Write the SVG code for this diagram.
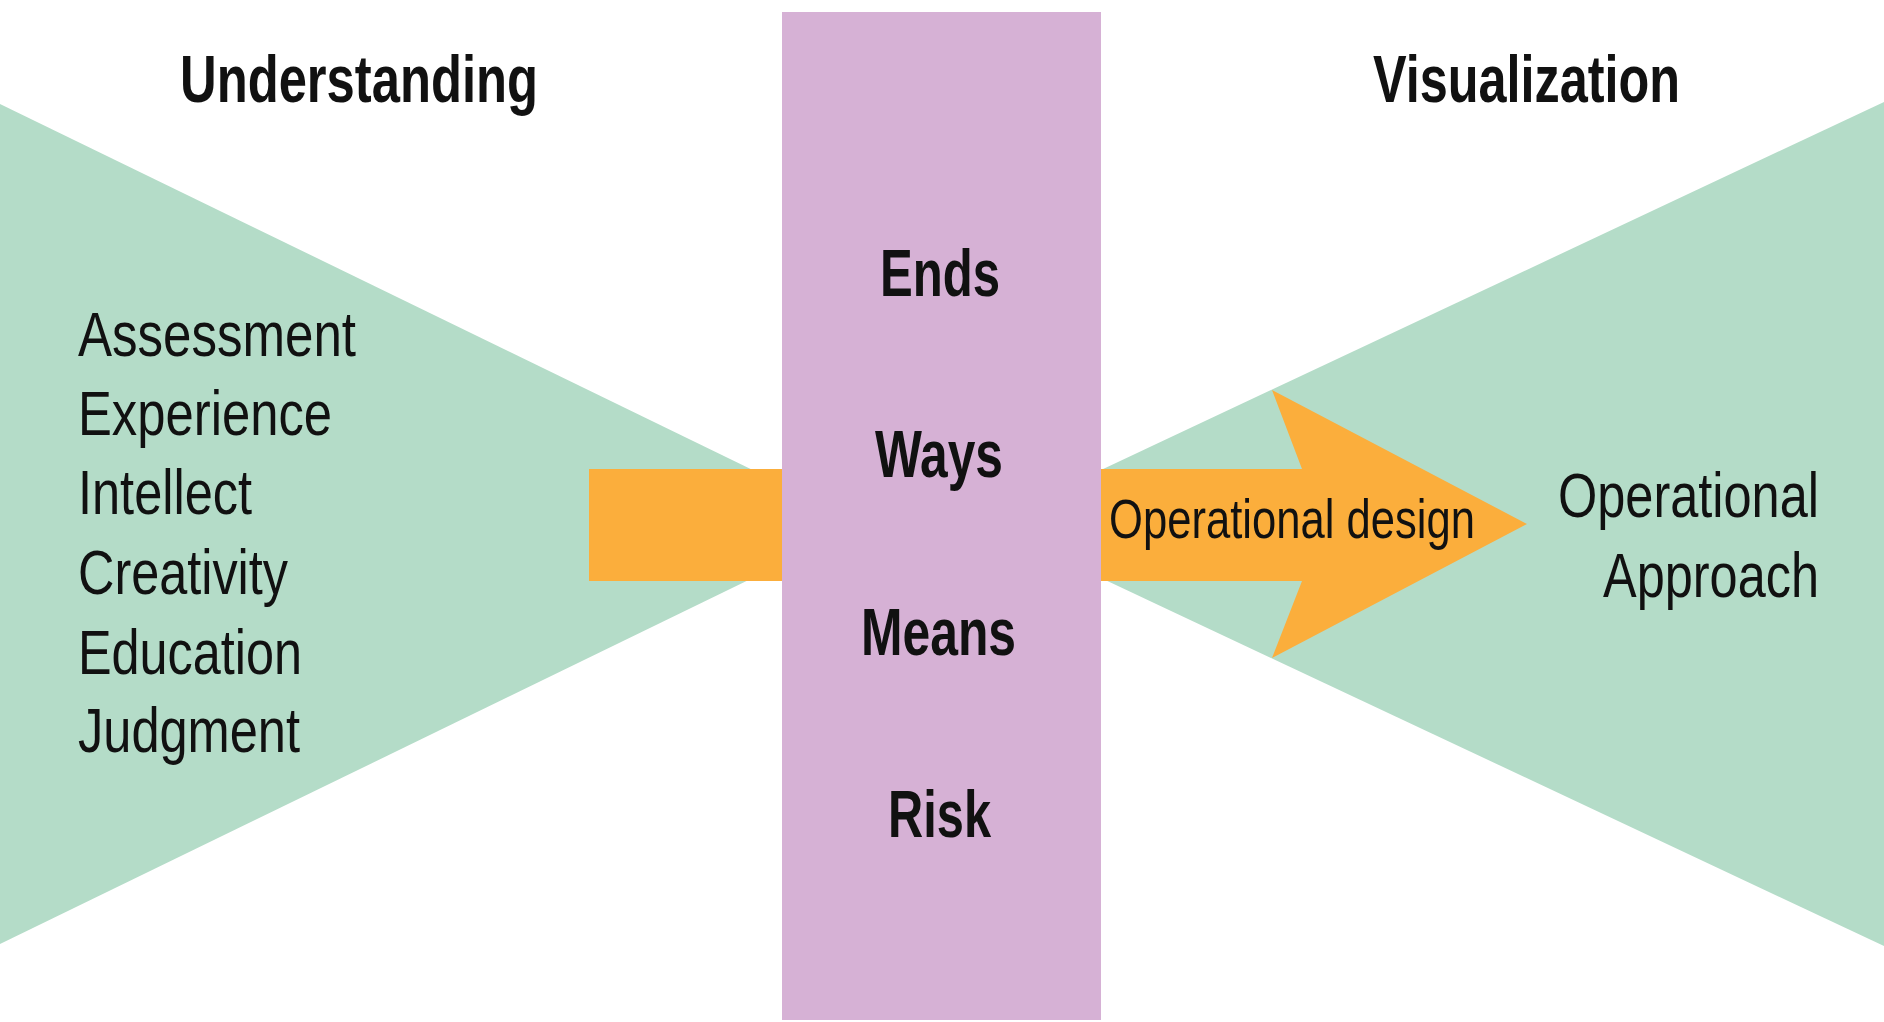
<svg xmlns="http://www.w3.org/2000/svg" width="1884" height="1022" viewBox="0 0 1884 1022">
<style>
.teal{fill:#b4dcc8}
.pink{fill:#d6b1d5}
.orange{fill:#fbae3c}
.t{font-family:"Liberation Sans Narrow","Liberation Sans",Arial,sans-serif;fill:#111;lengthAdjust:spacingAndGlyphs}
.b{font-weight:bold;font-size:66px}
.n{font-size:63px}
</style>
<rect width="1884" height="1022" fill="#ffffff"/>
<g id="left-triangle"><polygon class="teal" points="0,104 864,524 0,944"/></g>
<g id="right-triangle"><polygon class="teal" points="1884,102 986,524 1884,946"/></g>
<g id="connectors">
<rect id="left-shaft" class="orange" x="589" y="469" width="194" height="112"/>
<polygon id="right-arrow" class="orange" points="1100,469 1302,469 1272,390 1527,524 1272,658 1302,581 1100,581"/>
</g>
<g id="center-column">
<rect class="pink" x="782" y="12" width="319" height="1008"/>
<text class="t b" x="880" y="296" textLength="120" lengthAdjust="spacingAndGlyphs">Ends</text>
<text class="t b" x="875" y="477" textLength="128" lengthAdjust="spacingAndGlyphs">Ways</text>
<text class="t b" x="861" y="655" textLength="155" lengthAdjust="spacingAndGlyphs">Means</text>
<text class="t b" x="888" y="837" textLength="103" lengthAdjust="spacingAndGlyphs">Risk</text>
</g>
<g id="understanding">
<text class="t b" x="180" y="102" textLength="358" lengthAdjust="spacingAndGlyphs">Understanding</text>
<text class="t n" x="78" y="356" textLength="278" lengthAdjust="spacingAndGlyphs">Assessment</text>
<text class="t n" x="78" y="435" textLength="254" lengthAdjust="spacingAndGlyphs">Experience</text>
<text class="t n" x="78" y="514" textLength="174" lengthAdjust="spacingAndGlyphs">Intellect</text>
<text class="t n" x="78" y="594" textLength="210" lengthAdjust="spacingAndGlyphs">Creativity</text>
<text class="t n" x="78" y="674" textLength="224" lengthAdjust="spacingAndGlyphs">Education</text>
<text class="t n" x="78" y="752" textLength="222" lengthAdjust="spacingAndGlyphs">Judgment</text>
</g>
<g id="visualization">
<text class="t b" x="1373" y="102" textLength="307" lengthAdjust="spacingAndGlyphs">Visualization</text>
<text class="t n" x="1558" y="517" textLength="261" lengthAdjust="spacingAndGlyphs">Operational</text>
<text class="t n" x="1603" y="597" textLength="216" lengthAdjust="spacingAndGlyphs">Approach</text>
</g>
<g id="operational-design-label">
<text class="t" x="1109" y="538" font-size="56" textLength="366" lengthAdjust="spacingAndGlyphs">Operational design</text>
</g>
</svg>
